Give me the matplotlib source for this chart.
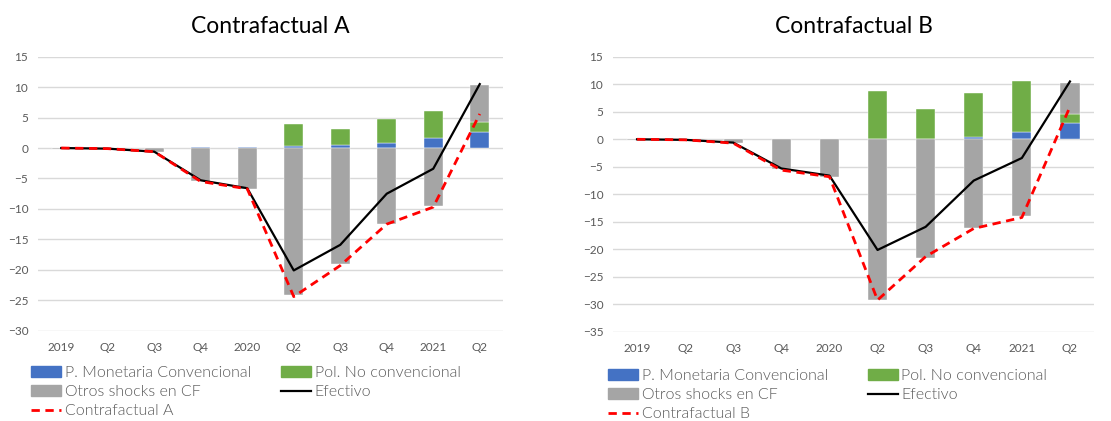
import numpy as np
import matplotlib
matplotlib.use("Agg")
import matplotlib.pyplot as plt
from matplotlib.patches import Patch
from matplotlib.lines import Line2D

plt.rcParams['font.family'] = ['Lato', 'DejaVu Sans']

# Datos comunes
categorias = ['2019', 'Q2', 'Q3', 'Q4', '2020', 'Q2', 'Q3', 'Q4', '2021', 'Q2']
efectivo = [0.0, -0.1, -0.6, -5.3, -6.6, -20.1, -15.9, -7.5, -3.4, 10.5]

# Contrafactual A
monetaria_a = [0.0, 0.0, 0.0, 0.15, 0.15, 0.4, 0.5, 0.9, 1.6, 2.6]
no_conv_a = [0.0, 0.0, 0.0, 0.0, 0.0, 3.6, 2.7, 3.9, 4.5, 1.6]
otros_a = [-0.1, 0.0, -0.6, -5.4, -6.7, -24.2, -19.0, -12.4, -9.6, 6.2]
contraf_a = [0.0, -0.1, -0.6, -5.5, -6.7, -24.4, -19.3, -12.5, -9.7, 5.6]

# Contrafactual B
monetaria_b = [0.0, 0.0, 0.0, 0.0, 0.0, 0.0, 0.0, 0.5, 1.4, 3.0]
no_conv_b = [0.0, 0.0, 0.0, 0.0, 0.0, 8.8, 5.5, 7.9, 9.1, 1.6]
otros_b = [-0.1, 0.0, -0.6, -5.4, -6.8, -29.1, -21.5, -16.2, -14.0, 5.7]
contraf_b = [0.0, -0.1, -0.7, -5.6, -6.8, -29.2, -21.3, -16.2, -14.2, 5.9]

azul = '#4472C4'
verde = '#70AD47'
gris = '#A5A5A5'
texto = '#595959'

fig = plt.figure(figsize=(11.11, 4.21), dpi=100)


def panel(rect, titulo, mon, nc, otros, cf, ylim, yticks, nombre_cf, leg_pos, colsep):
    ax = fig.add_axes(rect)
    x = np.arange(len(categorias))
    mon = np.array(mon)
    nc = np.array(nc)
    otros = np.array(otros)
    # apilado tipo Excel: positivos hacia arriba, negativos hacia abajo
    pos_base = np.zeros(len(x))
    neg_base = np.zeros(len(x))
    for vals, col in [(mon, azul), (nc, verde), (otros, gris)]:
        base = np.where(vals >= 0, pos_base, neg_base)
        ax.bar(x, vals, 0.4, bottom=base, color=col, edgecolor='white', linewidth=0.3, zorder=2)
        pos_base = pos_base + np.where(vals >= 0, vals, 0)
        neg_base = neg_base + np.where(vals < 0, vals, 0)
    ax.plot(x, efectivo, color='black', lw=1.6, zorder=3)
    ax.plot(x, cf, color='#FF0000', lw=2, linestyle=(0, (3, 2)), zorder=4)

    ax.set_xlim(-0.5, len(x) - 0.5)
    ax.set_ylim(*ylim)
    ax.set_yticks(yticks)
    ax.set_xticks(x)
    ax.set_xticklabels(categorias)
    ax.grid(axis='y', color='#D9D9D9', lw=1, zorder=0)
    ax.set_axisbelow(True)
    for s in ax.spines.values():
        s.set_visible(False)
    ax.tick_params(axis='both', length=0, labelsize=8.5, labelcolor=texto)
    ax.tick_params(axis='y', pad=7)
    ax.tick_params(axis='x', pad=8)
    ax.set_title(titulo, fontsize=16.5, pad=17)

    handles = [Patch(color=azul), Patch(color=gris),
               Line2D([], [], color='#FF0000', lw=2, linestyle=(0, (3, 2))),
               Patch(color=verde), Line2D([], [], color='black', lw=1.6)]
    labels = ['P. Monetaria Convencional', 'Otros shocks en CF', nombre_cf,
              'Pol. No convencional', 'Efectivo']
    leg = fig.legend(handles, labels, ncol=2, loc='upper left', bbox_to_anchor=leg_pos,
                     frameon=False, prop={'size': 11.5, 'weight': 300},
                     handlelength=1.9, handleheight=0.7,
                     handletextpad=0.2, labelspacing=0.3, columnspacing=colsep,
                     borderpad=0, borderaxespad=0)
    for t in leg.get_texts():
        t.set_color(texto)
    return ax


panel([38 / 1111, 1 - 330.7 / 421, 465 / 1111, 274 / 421], 'Contrafactual A',
      monetaria_a, no_conv_a, otros_a, contraf_a, (-30, 15), range(-30, 16, 5),
      'Contrafactual A', (31 / 1111, 1 - 366 / 421), 1.9)
panel([613 / 1111, 1 - 332 / 421, 481 / 1111, 275.3 / 421], 'Contrafactual B',
      monetaria_b, no_conv_b, otros_b, contraf_b, (-35, 15), range(-35, 16, 5),
      'Contrafactual B', (608 / 1111, 1 - 369 / 421), 2.5)

fig.savefig('out.png', dpi=100)
